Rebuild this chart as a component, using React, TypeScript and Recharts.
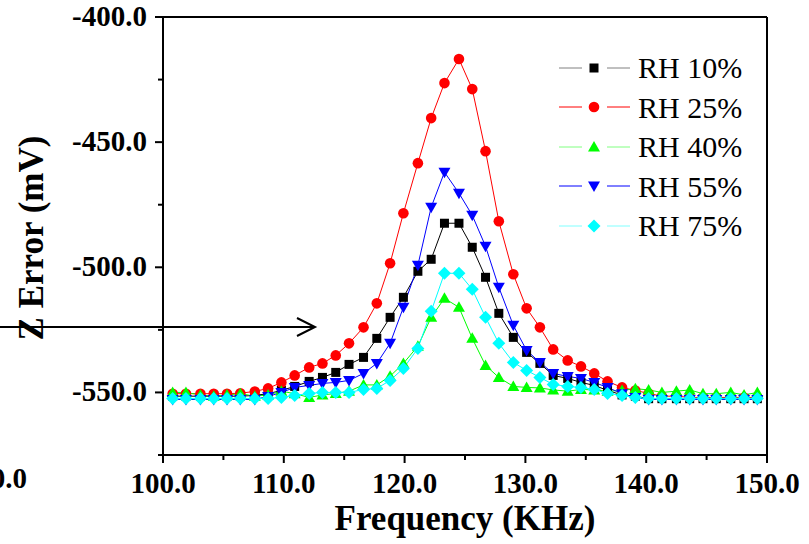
import { Label, Legend, Line, LineChart, XAxis, YAxis } from 'recharts';

const FREQ = [
  100.8, 101.9, 103.1, 104.2, 105.3, 106.4, 107.6, 108.7, 109.8, 110.9, 112.1,
  113.2, 114.3, 115.4, 116.6, 117.7, 118.8, 119.9, 121.1, 122.2, 123.3, 124.5,
  125.6, 126.7, 127.8, 129.0, 130.1, 131.2, 132.3, 133.5, 134.6, 135.7, 136.8,
  138.0, 139.1, 140.2, 141.3, 142.5, 143.6, 144.7, 145.8, 147.0, 148.1, 149.2,
];

const RH10 = [
  -551.5, -551.5, -551.5, -551.5, -551.5, -551.5, -551.2, -550.5, -549.2, -547.6, -545.6,
  -544, -542, -538.8, -536, -528.4, -520, -512, -501.6, -496.8, -482.4, -482.4,
  -492, -504, -518.4, -528, -534, -538.4, -543.2, -544.4, -546, -547.2, -549.2,
  -551, -551.5, -552.5, -552.5, -552.5, -552.5, -552.5, -552.5, -552.5, -552.5, -552.5,
];
const RH25 = [
  -550.5, -550.5, -550.5, -550.5, -550.5, -550.3, -549.6, -548.4, -546, -543.2, -540,
  -538.4, -535.2, -530.4, -524, -514.4, -498.4, -478.4, -458.4, -440.4, -426.4, -416.8,
  -428.8, -453.6, -481.6, -502.8, -516.4, -524, -532.8, -537.2, -539.6, -542.4, -545.6,
  -548, -549.2, -550.4, -551.5, -551.5, -552, -552, -552, -552, -552, -552,
];
const RH40 = [
  -550, -550, -551, -551.5, -551, -550.5, -551.5, -551, -549.5, -550.5, -552,
  -551, -550.4, -549.5, -547, -547, -543.5, -538.4, -531.5, -520, -512.4, -516,
  -528.4, -539.2, -544, -547.6, -548, -548.2, -549, -549.5, -548.8, -549, -549.5,
  -549.2, -548.5, -549, -550, -549.5, -549, -550.5, -550.5, -550, -551, -550,
];
const RH55 = [
  -552.8, -552.8, -552.8, -552.8, -552.8, -552.8, -552.8, -551.6, -550, -548, -547.2,
  -546.4, -546, -545.2, -542.4, -538.4, -530.4, -516, -499.2, -476, -462, -470.4,
  -479.2, -491.6, -508, -523.2, -533.2, -538, -542.4, -543.6, -544.4, -546, -548,
  -550.5, -552, -552.8, -552.8, -552.8, -552.8, -552.8, -552.8, -552.8, -552.8, -552.8,
];
const RH75 = [
  -552.4, -552.4, -552.4, -552.4, -552.4, -552.4, -552.4, -552.4, -552, -551.2, -550.4,
  -550, -550, -550, -548.8, -548.4, -545.2, -540.4, -532.4, -517.6, -502.4, -502.4,
  -508.8, -520, -530.4, -538, -541.2, -544, -546.8, -547.6, -548, -548.8, -550.4,
  -551.2, -552, -552.4, -552.4, -552.4, -552.4, -552.4, -552.4, -552.4, -552.4, -552.4,
];

const X_MAJOR = [100, 110, 120, 130, 140, 150];
const X_TICKS = [100, 105, 110, 115, 120, 125, 130, 135, 140, 145, 150];
const Y_MAJOR = [-550, -500, -450, -400];
const Y_TICKS = [-575, -550, -525, -500, -475, -450, -425, -400];

const SERIES = [
  { key: 'rh10', name: 'RH 10%', color: '#000000', legendLine: '#808080', shape: 'square' },
  { key: 'rh25', name: 'RH 25%', color: '#ff0000', legendLine: '#ff0000', shape: 'circle' },
  { key: 'rh40', name: 'RH 40%', color: '#00ff00', legendLine: '#80ff80', shape: 'up' },
  { key: 'rh55', name: 'RH 55%', color: '#0000ff', legendLine: '#0000ff', shape: 'down' },
  { key: 'rh75', name: 'RH 75%', color: '#00ffff', legendLine: '#80ffff', shape: 'diamond' },
];

const data = FREQ.map((f, i) => ({
  f,
  rh10: RH10[i],
  rh25: RH25[i],
  rh40: RH40[i],
  rh55: RH55[i],
  rh75: RH75[i],
}));

const FONT = '"Liberation Serif", "Times New Roman", serif';
const tickFont = { fontFamily: FONT, fontSize: 29, fontWeight: 'bold', fill: '#000' };
const titleFont = { fontFamily: FONT, fontSize: 35, fontWeight: 'bold', fill: '#000' };

function Marker({ shape, color, cx, cy }: { shape: string; color: string; cx: number; cy: number }) {
  if (shape === 'square') return <rect x={cx - 4.5} y={cy - 4.5} width={9} height={9} fill={color} />;
  if (shape === 'circle') return <circle cx={cx} cy={cy} r={5.3} fill={color} />;
  if (shape === 'up')
    return <polygon points={`${cx - 6},${cy + 4.5} ${cx + 6},${cy + 4.5} ${cx},${cy - 6}`} fill={color} />;
  if (shape === 'down')
    return <polygon points={`${cx - 6},${cy - 4.5} ${cx + 6},${cy - 4.5} ${cx},${cy + 6}`} fill={color} />;
  return <polygon points={`${cx},${cy - 6.5} ${cx + 6.5},${cy} ${cx},${cy + 6.5} ${cx - 6.5},${cy}`} fill={color} />;
}

function BottomTick({ x, y, payload }: any) {
  const major = X_MAJOR.includes(payload.value);
  return (
    <g>
      <line x1={x} y1={y} x2={x} y2={y + (major ? 8 : 5)} stroke="#000" strokeWidth={2} />
      {major && (
        <text x={x} y={y + 38} textAnchor="middle" style={tickFont}>
          {payload.value.toFixed(1)}
        </text>
      )}
    </g>
  );
}

function TopTick({ x, y, payload }: any) {
  const major = X_MAJOR.includes(payload.value);
  return <line x1={x} y1={y} x2={x} y2={y + (major ? 8 : 5)} stroke="#000" strokeWidth={2} />;
}

function LeftTick({ x, y, payload }: any) {
  const major = Y_MAJOR.includes(payload.value);
  return (
    <g>
      <line x1={x} y1={y} x2={x - (major ? 8 : 5)} y2={y} stroke="#000" strokeWidth={2} />
      {major && (
        <text x={x - 16} y={y + 9} textAnchor="end" style={tickFont}>
          {payload.value.toFixed(1)}
        </text>
      )}
    </g>
  );
}

function RightTick({ x, y, payload }: any) {
  const major = Y_MAJOR.includes(payload.value);
  return <line x1={x} y1={y} x2={x - (major ? 8 : 5)} y2={y} stroke="#000" strokeWidth={2} />;
}

function LegendBox() {
  return (
    <div style={{ fontFamily: FONT, fontSize: 30, color: '#000' }}>
      {SERIES.map((s) => (
        <div key={s.key} style={{ display: 'flex', alignItems: 'center', height: 39.5 }}>
          <svg width={79} height={20} style={{ display: 'block' }}>
            <line x1={4} y1={10} x2={27} y2={10} stroke={s.legendLine} strokeWidth={1} />
            <line x1={52} y1={10} x2={75} y2={10} stroke={s.legendLine} strokeWidth={1} />
            <Marker shape={s.shape} color={s.color} cx={39} cy={10} />
          </svg>
          <span style={{ marginLeft: 4, lineHeight: '39.5px' }}>{s.name}</span>
        </div>
      ))}
    </div>
  );
}

export default function App() {
  return (
    <div style={{ position: 'absolute', left: 0, top: 0, width: 809, height: 544, background: '#fff' }}>
      <LineChart width={809} height={544} data={data} margin={{ top: 0, right: 0, bottom: 0, left: 0 }}>
        <XAxis
          xAxisId="bottom"
          dataKey="f"
          type="number"
          domain={[100, 150]}
          ticks={X_TICKS}
          interval={0}
          height={89}
          tickSize={0}
          tickMargin={0}
          tick={<BottomTick />}
          axisLine={{ stroke: '#000', strokeWidth: 2 }}
        >
          <Label value="Frequency (KHz)" position="insideBottom" offset={14} style={titleFont} />
        </XAxis>
        <XAxis
          xAxisId="top"
          orientation="top"
          type="number"
          domain={[100, 150]}
          ticks={X_TICKS}
          interval={0}
          height={17}
          tickSize={0}
          tickMargin={0}
          tick={<TopTick />}
          axisLine={{ stroke: '#000', strokeWidth: 2 }}
        />
        <YAxis
          yAxisId="left"
          type="number"
          domain={[-575, -400]}
          ticks={Y_TICKS}
          interval={0}
          width={163}
          tickSize={0}
          tickMargin={0}
          tick={<LeftTick />}
          axisLine={{ stroke: '#000', strokeWidth: 2 }}
        >
          <Label
            content={() => (
              <text x={43} y={238} transform="rotate(-90 43 238)" textAnchor="middle" style={titleFont}>
                Z Error (mV)
              </text>
            )}
          />
        </YAxis>
        <YAxis
          yAxisId="right"
          orientation="right"
          type="number"
          domain={[-575, -400]}
          ticks={Y_TICKS}
          interval={0}
          width={42}
          tickSize={0}
          tickMargin={0}
          tick={<RightTick />}
          axisLine={{ stroke: '#000', strokeWidth: 2 }}
        />
        <Legend
          layout="horizontal"
          verticalAlign="middle"
          align="center"
          content={() => <LegendBox />}
          wrapperStyle={{ left: 555, top: 48, width: 220, height: 200 }}
        />
        {SERIES.map((s) => (
          <Line
            key={s.key}
            xAxisId="bottom"
            yAxisId="left"
            dataKey={s.key}
            name={s.name}
            stroke={s.color}
            strokeWidth={1}
            isAnimationActive={false}
            dot={(p: any) => <Marker key={p.index} shape={s.shape} color={s.color} cx={p.cx} cy={p.cy} />}
            activeDot={false}
          />
        ))}
      </LineChart>
      <svg
        width={809}
        height={544}
        style={{ position: 'absolute', left: 0, top: 0, pointerEvents: 'none' }}
      >
        <line x1={0} y1={327} x2={314} y2={327} stroke="#000" strokeWidth={2} />
        <polyline points="297,318 315,327 297,336" fill="none" stroke="#000" strokeWidth={2} />
        <text x={27} y={488} textAnchor="end" style={tickFont}>
          90.0
        </text>
      </svg>
    </div>
  );
}
